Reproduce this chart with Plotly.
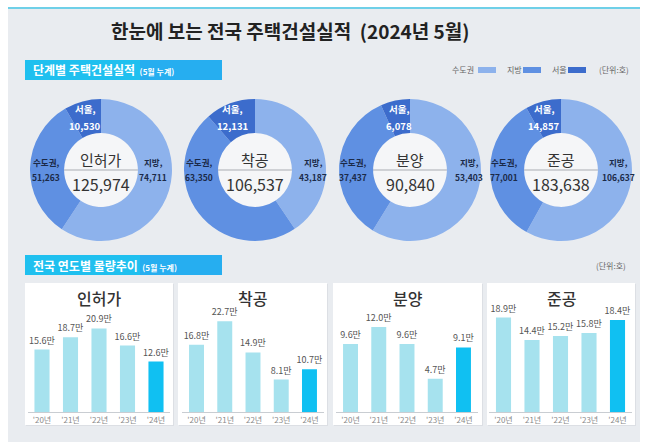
import plotly.graph_objects as go

W, H = 648, 444
FONT = "Noto Sans CJK KR"

# ---------------- data ----------------
stages = ["인허가", "착공", "분양", "준공"]
totals = [125974, 106537, 90840, 183638]
capital = [51263, 63350, 37437, 77001]      # 수도권
local = [74711, 43187, 53403, 106637]       # 지방
seoul = [10530, 12131, 6078, 14857]         # 서울 (수도권 포함)

years = ["'20년", "'21년", "'22년", "'23년", "'24년"]
trend = {
    "인허가": [15.6, 18.7, 20.9, 16.6, 12.6],
    "착공": [16.8, 22.7, 14.9, 8.1, 10.7],
    "분양": [9.6, 12.0, 9.6, 4.7, 9.1],
    "준공": [18.9, 14.4, 15.2, 15.8, 18.4],
}

# ---------------- style / layout ----------------
C_LOCAL = "#8db2ec"
C_CAP = "#5f90e2"
C_SEOUL = "#3c6ccc"
BAR_OLD = "#a6e2ee"
BAR_NEW = "#10c0f2"


def X(px):
    return px / W


def Y(py):
    return 1 - py / H


fig = go.Figure()
shapes = []
ann = []


def text(px, py, s, size, color, xanchor="center", weight=None, family=FONT):
    f = dict(family=family, size=size, color=color)
    if weight:
        f["weight"] = weight
    ann.append(dict(x=X(px), y=Y(py), xref="paper", yref="paper", showarrow=False,
                    xanchor=xanchor, yanchor="middle", text=s, font=f))


# background
shapes.append(dict(type="rect", xref="paper", yref="paper", x0=X(8), x1=X(640), y0=Y(442), y1=Y(8),
                   fillcolor="#e9ecf0", line=dict(width=0), layer="below"))
shapes.append(dict(type="line", xref="paper", yref="paper", x0=X(8), x1=X(640), y0=Y(8), y1=Y(8),
                   line=dict(color="#6fd0e8", width=2)))

# title
text(290, 31, "<b>한눈에 보는 전국 주택건설실적  (2024년 5월)</b>", 19, "#222222")

# section headers
for (y0, y1, title) in [(60, 80, "단계별 주택건설실적"), (255, 275, "전국 연도별 물량추이")]:
    shapes.append(dict(type="rect", xref="paper", yref="paper", x0=X(25), x1=X(140), y0=Y(y1), y1=Y(y0),
                       fillcolor="#1fc0ef", line=dict(width=0), layer="below"))
    shapes.append(dict(type="rect", xref="paper", yref="paper", x0=X(140), x1=X(222), y0=Y(y1), y1=Y(y0),
                       fillcolor="#26aef0", line=dict(width=0), layer="below"))
    text(31, (y0 + y1) / 2, f"<b>{title}</b> <span style='font-size:8px'><b> (5월 누계)</b></span>",
         12, "white", xanchor="left")

# legend (top right)
leg_items = [("수도권", 450, 478, C_LOCAL), ("지방", 505, 523, C_CAP), ("서울", 550, 568, C_SEOUL)]
for name, tx, sx, col in leg_items:
    text(tx, 70, name, 8, "#666666", xanchor="left")
    shapes.append(dict(type="rect", xref="paper", yref="paper", x0=X(sx), x1=X(sx + 18), y0=Y(73), y1=Y(67),
                       fillcolor=col, line=dict(width=0)))
text(597, 70, "(단위:호)", 8, "#666666", xanchor="left")
text(628, 265, "(단위:호)", 8, "#666666", xanchor="right")

# donuts
CX = [101, 255, 410, 561]
CY = 170
R = 71
HOLE = 0.52
lab_dx = [(-16, -55, 52), (-23, -56, 58), (-11, -57, 59), (-17, -57, 57)]
for i, st in enumerate(stages):
    cx = CX[i]
    vals = [local[i], capital[i] - seoul[i], seoul[i]]
    fig.add_trace(go.Pie(values=vals, labels=["지방", "수도권", "서울"], sort=False,
                         direction="clockwise", rotation=0, hole=HOLE,
                         marker=dict(colors=[C_LOCAL, C_CAP, C_SEOUL], line=dict(width=0)),
                         textinfo="none", hoverinfo="skip", showlegend=False,
                         domain=dict(x=[X(cx - R), X(cx + R)], y=[Y(CY + R), Y(CY - R)])))
    ri = R * HOLE
    shapes.append(dict(type="circle", xref="paper", yref="paper", x0=X(cx - ri), x1=X(cx + ri),
                       y0=Y(CY + ri), y1=Y(CY - ri), fillcolor="#f5f6f8", line=dict(width=0),
                       layer="below"))
    shapes.append(dict(type="line", xref="paper", yref="paper", x0=X(cx - ri), x1=X(cx + ri),
                       y0=Y(CY), y1=Y(CY), line=dict(color="#a9acb2", width=1), layer="below"))
    text(cx, CY - 11, st, 15, "#333333")
    text(cx, CY + 14, f"{totals[i]:,}", 16, "#333333")
    dse, dca, dlo = lab_dx[i]
    text(cx + dse, CY - 61, "<b>서울,</b>", 9.5, "white")
    text(cx + dse, CY - 44, f"<b>{seoul[i]:,}</b>", 9.5, "white")
    text(cx + dca, CY - 8, "<b>수도권,</b>", 8.5, "#1b2a48")
    text(cx + dca, CY + 7, f"<b>{capital[i]:,}</b>", 8.5, "#1b2a48")
    text(cx + dlo, CY - 8, "<b>지방,</b>", 8.5, "#1b2a48")
    text(cx + dlo, CY + 7, f"<b>{local[i]:,}</b>", 8.5, "#1b2a48")

# bar panels
panels = [(25, 173), (178, 327), (333, 482), (487, 635)]
dom = [(27.75, 170.25), (182.4, 323.6), (336.4, 477.6), (489.25, 631.75)]
yr = [28, 28, 15.8, 22.4]
for i, st in enumerate(stages):
    p0, p1 = panels[i]
    shapes.append(dict(type="rect", xref="paper", yref="paper", x0=X(p0 + 1), x1=X(p1 + 1), y0=Y(426),
                       y1=Y(284), fillcolor="#dcdfe4", line=dict(width=0), layer="below"))
    shapes.append(dict(type="rect", xref="paper", yref="paper", x0=X(p0), x1=X(p1), y0=Y(425), y1=Y(283),
                       fillcolor="white", line=dict(width=0), layer="below"))
    text((p0 + p1) / 2, 298, st, 16, "#333333", weight=500)
    n = i + 1
    xa = "x" if n == 1 else f"x{n}"
    ya = "y" if n == 1 else f"y{n}"
    vals = trend[st]
    fig.add_trace(go.Bar(x=years, y=vals, xaxis=xa, yaxis=ya,
                         marker=dict(color=[BAR_OLD] * 4 + [BAR_NEW], line=dict(width=0)),
                         text=[f"{v:.1f}만" for v in vals], textposition="outside",
                         constraintext="none", cliponaxis=False,
                         textfont=dict(family=FONT, size=9, color="#555555"),
                         hoverinfo="skip", showlegend=False))
    d0, d1 = dom[i]
    fig.layout[f"xaxis{'' if n == 1 else n}"] = dict(
        domain=[X(d0), X(d1)], anchor=ya, showline=True, linecolor="#c9cdd2", linewidth=1,
        showgrid=False, zeroline=False, ticks="", fixedrange=True,
        tickfont=dict(family=FONT, size=8, color="#8a8a8a"))
    fig.layout[f"yaxis{'' if n == 1 else n}"] = dict(
        domain=[Y(412), Y(300)], anchor=xa, range=[0, yr[i]], visible=False, fixedrange=True)

fig.update_layout(width=W, height=H, margin=dict(l=0, r=0, t=0, b=0),
                  paper_bgcolor="white", plot_bgcolor="rgba(0,0,0,0)",
                  bargap=0.47, shapes=shapes, annotations=ann, font=dict(family=FONT))

fig.write_html("out.html", config={"displayModeBar": False},
               post_script="document.body.style.margin='0px';document.body.style.overflow='hidden';")
